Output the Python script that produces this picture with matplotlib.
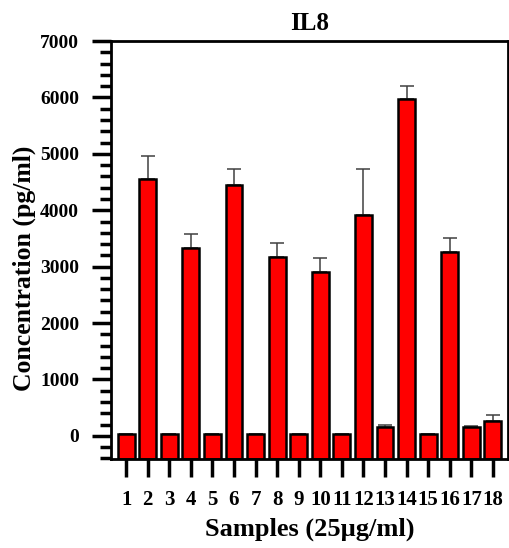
import numpy as np
import matplotlib
matplotlib.use('Agg')
import matplotlib.pyplot as plt
from matplotlib.ticker import MultipleLocator

plt.rcParams['font.family'] = ['Liberation Serif', 'DejaVu Serif']
plt.rcParams['font.weight'] = 'bold'

samples = [str(i) for i in range(1, 19)]
conc = [35, 4550, 40, 3330, 40, 4450, 40, 3170, 25, 2900,
        40, 3910, 165, 5970, 30, 3260, 155, 270]
err = [0, 410, 0, 250, 0, 285, 0, 250, 0, 260,
       0, 815, 25, 230, 0, 250, 15, 105]

YMIN, YMAX = -410, 7000

fig = plt.figure(figsize=[5.1, 5.48], dpi=100)
ax = fig.add_axes([111/510, 1 - 459/548, 397/510, 418/548])

x = np.arange(1, len(samples) + 1)
conc = np.array(conc)
# bars are drawn up from the bottom of the axis, as in the original
ax.bar(x, conc - YMIN, bottom=YMIN, width=0.78, color='#ff0000',
       edgecolor='black', linewidth=1.8, zorder=2)
ax.errorbar(x, conc, yerr=[np.zeros(len(err)), err], fmt='none', ecolor='#404040',
            elinewidth=1.1, capsize=5, capthick=1.1, zorder=1)

ax.set_xlim(0.3, 18.7)
ax.set_ylim(YMIN, YMAX)
ax.set_xticks(x)
ax.set_xticklabels(samples)
ax.yaxis.set_major_locator(MultipleLocator(1000))
ax.yaxis.set_minor_locator(MultipleLocator(200))

for s in ax.spines.values():
    s.set_linewidth(2)
ax.tick_params(axis='x', which='major', direction='out', length=13, width=2.5, pad=9, labelsize=15)
ax.tick_params(axis='y', which='major', direction='out', length=14, width=2.5, pad=9, labelsize=14)
ax.tick_params(axis='y', which='minor', direction='out', length=8, width=2.5)

ax.set_title('IL8', fontsize=18, fontweight='bold', pad=8)
ax.set_ylabel('Concentration (pg/ml)', fontsize=18.5, fontweight='bold')
ax.yaxis.set_label_coords(-0.19, 0.455)
ax.set_xlabel('Samples (25µg/ml)', fontsize=19, fontweight='bold', labelpad=6)

plt.savefig('out.png', dpi=100)
